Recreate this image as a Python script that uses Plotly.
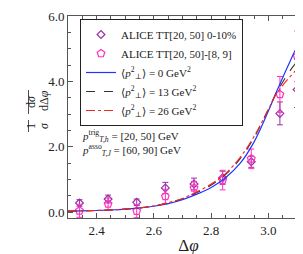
import plotly.graph_objects as go

# ---- data ----
x_data = [2.34, 2.44, 2.54, 2.64, 2.74, 2.84, 2.94, 3.04, 3.10]
alice_010 = [0.28, 0.40, 0.30, 0.74, 0.86, 1.05, 1.54, 3.02, 3.75]
alice_010_err = [0.10, 0.12, 0.10, 0.17, 0.18, 0.20, 0.17, 0.35, 0.55]
alice_89 = [0.04, 0.25, 0.03, 0.48, 0.74, 0.98, 1.63, 3.60, 4.77]
alice_89_err = [0.20, 0.18, 0.20, 0.22, 0.20, 0.30, 0.30, 0.55, 0.77]

x_curve = [2.30, 2.35, 2.40, 2.45, 2.50, 2.55, 2.60, 2.65, 2.70, 2.75, 2.80,
           2.85, 2.90, 2.95, 3.00, 3.025, 3.05, 3.075, 3.10, 3.125, 3.1416]
kt0 = [0.03, 0.04, 0.05, 0.065, 0.09, 0.13, 0.18, 0.26, 0.38, 0.55, 0.75,
       1.05, 1.48, 2.15, 3.10, 3.62, 4.12, 4.60, 5.05, 5.28, 5.36]
kt13 = [0.03, 0.04, 0.05, 0.065, 0.09, 0.13, 0.19, 0.28, 0.41, 0.60, 0.83,
        1.15, 1.62, 2.28, 3.15, 3.60, 3.98, 4.32, 4.60, 4.82, 4.92]
kt26 = [0.03, 0.04, 0.05, 0.065, 0.09, 0.13, 0.19, 0.29, 0.42, 0.62, 0.86,
        1.18, 1.66, 2.32, 3.15, 3.58, 3.88, 4.14, 4.37, 4.55, 4.62]

x_ticks = [2.4, 2.6, 2.8, 3.0]
y_ticks = [0.0, 2.0, 4.0, 6.0]

SERIF = "Liberation Serif, DejaVu Serif, serif"
TXT = "#222222"
PURPLE = "#9b2fa8"
PINK = "#ff33bb"

# plot-area geometry (pixels) used to place the rotated y-axis fraction
L, R, T, B, W, H = 60, 2, 8, 44, 303, 254
PW, PH = W - L - R, H - T - B


def px(xp):
    return (xp - L) / PW


def py(yp):
    return 1 - (yp - T) / PH


fig = go.Figure()
fig.add_trace(go.Scatter(
    x=x_data, y=alice_010, mode="markers",
    name="ALICE TT[20, 50] 0-10%",
    marker=dict(symbol="diamond-open", size=6, color=PURPLE, line=dict(width=1.2)),
    error_y=dict(type="data", array=alice_010_err, color=PURPLE, thickness=1, width=3),
))
fig.add_trace(go.Scatter(
    x=x_data, y=alice_89, mode="markers",
    name="ALICE TT[20, 50]-[8, 9]",
    marker=dict(symbol="pentagon-open", size=8, color=PINK, line=dict(width=1.2)),
    error_y=dict(type="data", array=alice_89_err, color=PINK, thickness=1, width=3),
))
fig.add_trace(go.Scatter(
    x=x_curve, y=kt0, mode="lines", line_shape="spline",
    name="⟨<i>p</i><sup>2</sup><sub>⊥</sub>⟩ = 0 GeV<sup>2</sup>",
    line=dict(color="#2233ff", width=1.2),
))
fig.add_trace(go.Scatter(
    x=x_curve, y=kt13, mode="lines", line_shape="spline",
    name="⟨<i>p</i><sup>2</sup><sub>⊥</sub>⟩ = 13 GeV<sup>2</sup>",
    line=dict(color="#333333", width=1.1, dash="dash"),
))
fig.add_trace(go.Scatter(
    x=x_curve, y=kt26, mode="lines", line_shape="spline",
    name="⟨<i>p</i><sup>2</sup><sub>⊥</sub>⟩ = 26 GeV<sup>2</sup>",
    line=dict(color="#ff2222", width=1.1, dash="dashdot"),
))

axis_common = dict(
    showgrid=False, zeroline=False, showline=True, linecolor="#555555", linewidth=1,
    mirror="allticks", ticks="inside", ticklen=5, tickcolor="#555555",
    tickfont=dict(family=SERIF, size=13, color=TXT),
)
fig.update_xaxes(
    range=[2.3, 3.1416], tickvals=x_ticks, ticktext=[f"{v:.1f}" for v in x_ticks],
    minor=dict(ticks="inside", dtick=0.05, tick0=2.3, ticklen=3, tickcolor="#555555"),
    title=dict(text="Δ<i>φ</i>", font=dict(family=SERIF, size=17, color=TXT), standoff=2),
    **axis_common,
)
fig.update_yaxes(
    range=[-0.18, 6.0], tickvals=y_ticks, ticktext=[f"{v:.1f}" for v in y_ticks],
    minor=dict(ticks="inside", dtick=0.5, tick0=0, ticklen=3, tickcolor="#555555"),
    **axis_common,
)

# rotated y-axis title drawn as two stacked fractions: 1/σ  dσ/dΔφ
frac_font = dict(family=SERIF, size=12, color=TXT)
for txt, xp_, yp_ in [("1", 14, 118), ("<i>σ</i>", 27, 118),
                      ("d<i>σ</i>", 14, 94), ("dΔ<i>φ</i>", 27, 93)]:
    fig.add_annotation(xref="paper", yref="paper", x=px(xp_), y=py(yp_),
                       showarrow=False, textangle=-90, text=txt, font=frac_font)
for y0, y1 in [(112, 124), (82, 106)]:
    fig.add_shape(type="line", xref="paper", yref="paper",
                  x0=px(20.5), x1=px(20.5), y0=py(y0), y1=py(y1),
                  line=dict(color=TXT, width=0.8))

fig.add_annotation(
    xref="paper", yref="paper", x=px(72), y=py(135), xanchor="left", showarrow=False,
    align="left",
    text="<i>p</i><sup>trig</sup><sub><i>T,h</i></sub> = [20, 50] GeV<br>"
         "<i>p</i><sup>asso</sup><sub><i>T,J</i></sub> = [60, 90] GeV",
    font=dict(family=SERIF, size=11, color=TXT),
)

fig.update_layout(
    width=W, height=H,
    margin=dict(l=L, r=R, t=T, b=B),
    paper_bgcolor="white", plot_bgcolor="white",
    showlegend=True,
    legend=dict(
        x=px(72), y=py(11), xanchor="left", yanchor="top",
        bgcolor="rgba(255,255,255,0.9)", bordercolor=TXT, borderwidth=1,
        font=dict(family=SERIF, size=11, color=TXT),
        itemwidth=30, tracegroupgap=0,
    ),
)

fig.write_html("out.html")
